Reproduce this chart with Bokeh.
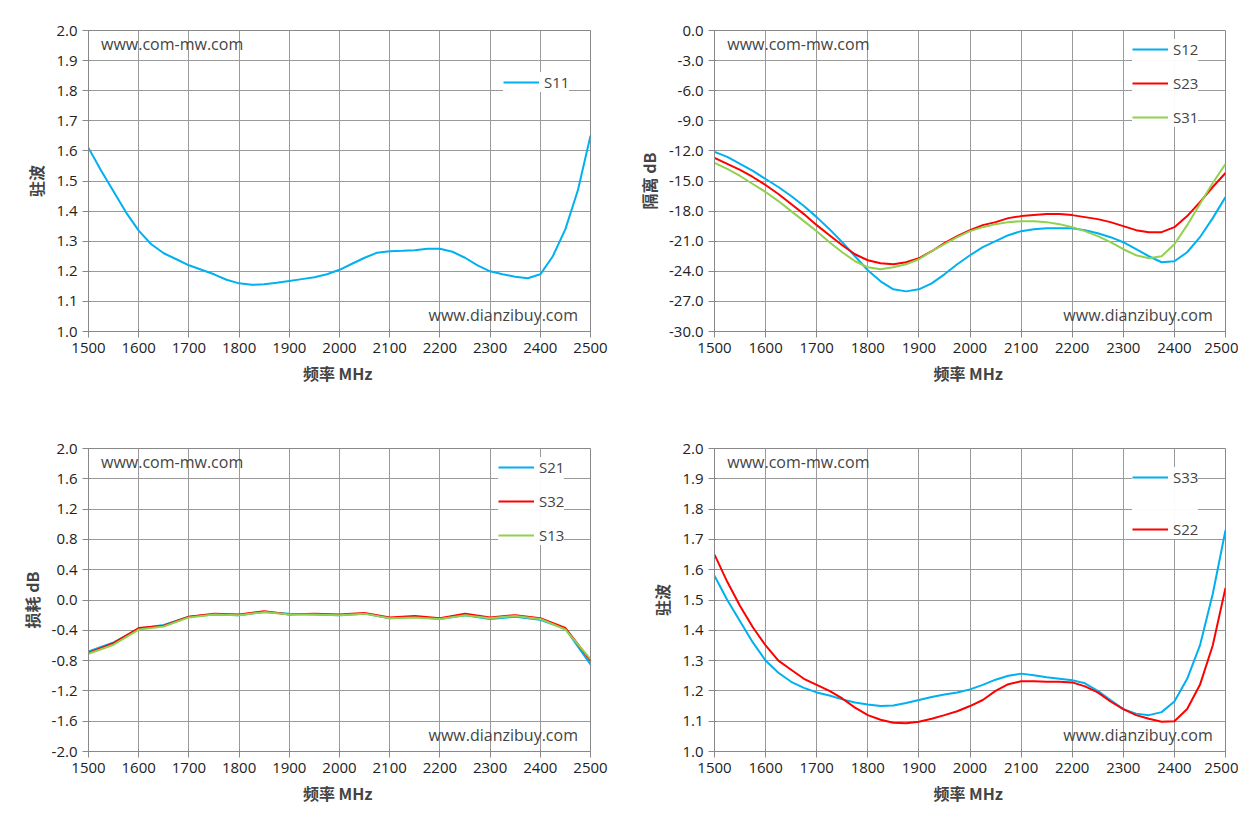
from bokeh.plotting import figure
from bokeh.layouts import gridplot
from bokeh.models import Label, Legend, FixedTicker, Range1d, CustomJSTickFormatter
from bokeh.embed import file_html
from bokeh.resources import INLINE

freq = list(range(1500, 2501, 25))
freq50 = list(range(1500, 2501, 50))

s11 = [1.61, 1.535, 1.465, 1.395, 1.335, 1.29, 1.26, 1.24, 1.22, 1.205, 1.19,
       1.172, 1.16, 1.155, 1.157, 1.162, 1.168, 1.174, 1.18, 1.19, 1.205,
       1.225, 1.245, 1.262, 1.267, 1.268, 1.27, 1.275, 1.275, 1.265, 1.245,
       1.22, 1.20, 1.19, 1.182, 1.177, 1.19, 1.25, 1.34, 1.47, 1.65]

s12 = [-12.1, -12.6, -13.3, -14.0, -14.8, -15.6, -16.5, -17.5, -18.6, -19.8, -21.1,
       -22.5, -23.9, -25.0, -25.8, -26.0, -25.8, -25.2, -24.3, -23.3, -22.4,
       -21.6, -21.0, -20.4, -20.0, -19.8, -19.7, -19.7, -19.7, -19.9, -20.2,
       -20.6, -21.1, -21.8, -22.5, -23.1, -23.0, -22.1, -20.6, -18.7, -16.6]
s23 = [-12.7, -13.3, -13.9, -14.6, -15.4, -16.3, -17.3, -18.3, -19.4, -20.4, -21.4,
       -22.3, -22.9, -23.2, -23.3, -23.1, -22.7, -22.0, -21.2, -20.5, -19.9,
       -19.4, -19.1, -18.7, -18.5, -18.4, -18.3, -18.3, -18.4, -18.6, -18.8,
       -19.1, -19.5, -19.9, -20.1, -20.1, -19.6, -18.5, -17.1, -15.6, -14.2]
s31 = [-13.2, -13.8, -14.5, -15.3, -16.1, -17.0, -18.0, -19.0, -20.0, -21.1, -22.1,
       -23.0, -23.6, -23.8, -23.6, -23.3, -22.8, -22.0, -21.3, -20.6, -20.0,
       -19.6, -19.3, -19.1, -19.0, -19.0, -19.1, -19.3, -19.6, -20.0, -20.5,
       -21.1, -21.8, -22.4, -22.7, -22.5, -21.3, -19.4, -17.3, -15.2, -13.3]

s21 = [-0.68, -0.56, -0.38, -0.33, -0.22, -0.19, -0.20, -0.16, -0.18, -0.19, -0.20,
       -0.18, -0.24, -0.22, -0.25, -0.20, -0.25, -0.22, -0.26, -0.38, -0.85]
s32 = [-0.70, -0.57, -0.37, -0.34, -0.22, -0.18, -0.19, -0.15, -0.19, -0.18, -0.19,
       -0.17, -0.23, -0.21, -0.24, -0.18, -0.23, -0.20, -0.24, -0.37, -0.80]
s13 = [-0.71, -0.59, -0.39, -0.35, -0.23, -0.19, -0.20, -0.16, -0.19, -0.19, -0.20,
       -0.18, -0.24, -0.23, -0.25, -0.20, -0.24, -0.21, -0.25, -0.39, -0.78]

s33 = [1.58, 1.50, 1.43, 1.36, 1.30, 1.26, 1.23, 1.21, 1.195, 1.185, 1.172,
       1.162, 1.155, 1.15, 1.152, 1.16, 1.17, 1.18, 1.188, 1.195, 1.205,
       1.22, 1.237, 1.25, 1.257, 1.252, 1.245, 1.24, 1.235, 1.225, 1.20,
       1.17, 1.14, 1.125, 1.12, 1.13, 1.165, 1.24, 1.35, 1.52, 1.73]
s22 = [1.65, 1.56, 1.48, 1.41, 1.35, 1.30, 1.27, 1.24, 1.22, 1.20, 1.175,
       1.145, 1.12, 1.105, 1.095, 1.093, 1.098, 1.108, 1.12, 1.133, 1.15,
       1.17, 1.20, 1.222, 1.232, 1.232, 1.23, 1.23, 1.228, 1.215, 1.195,
       1.165, 1.14, 1.12, 1.108, 1.098, 1.10, 1.14, 1.22, 1.35, 1.54]

x_ticks = list(range(1500, 2501, 100))
CYAN, RED, GREEN = "#00B0F0", "#FF0000", "#92D050"
TICK_FONT = "Open Sans"
CJK = "Noto Sans CJK SC"


def make_panel(left, right, top, bottom, y0, y1, step, ylabel, series, legend_loc, legend_spacing):
    p = figure(width=619, height=411, x_range=Range1d(1500, 2500), y_range=Range1d(y0, y1),
               toolbar_location=None, output_backend="svg",
               min_border_left=left, min_border_right=right,
               min_border_top=top, min_border_bottom=bottom)
    p.outline_line_color = "#888888"
    p.xaxis.ticker = FixedTicker(ticks=x_ticks)
    n = int(round((y1 - y0) / step))
    p.yaxis.ticker = FixedTicker(ticks=[round(y0 + i * step, 3) for i in range(n + 1)])
    p.yaxis.formatter = CustomJSTickFormatter(code="return tick.toFixed(1);")
    for ax in (p.xaxis, p.yaxis):
        ax.major_label_text_font = TICK_FONT
        ax.major_label_text_font_size = "15px"
        ax.major_label_text_color = "#222222"
        ax.axis_line_color = "#888888"
        ax.major_tick_line_color = "#888888"
        ax.minor_tick_line_color = None
        ax.axis_label_text_font = CJK
        ax.axis_label_text_font_style = "bold"
        ax.axis_label_text_font_size = "16px"
    p.xaxis.axis_label = "频率  MHz"
    p.yaxis.axis_label = ylabel
    p.grid.grid_line_color = "#9a9a9a"
    p.grid.grid_line_alpha = 1.0
    items = []
    for name, xs, vals, color in series:
        r = p.line(xs, vals, line_color=color, line_width=2)
        items.append((name, [r]))
    leg = Legend(items=items, location=legend_loc, border_line_color=None,
                 background_fill_color="white", label_text_font=TICK_FONT,
                 label_text_font_size="15px", spacing=legend_spacing, glyph_width=36)
    p.add_layout(leg, "center")
    p.add_layout(Label(x=1525, y=y1, y_offset=-24, text="www.com-mw.com", text_font=TICK_FONT,
                       text_font_size="16px"))
    p.add_layout(Label(x=2475, y=y0, y_offset=6, text="www.dianzibuy.com", text_font=TICK_FONT,
                       text_font_size="16px", text_align="right"))
    return p


p1 = make_panel(88, 29, 30, 80, 1.0, 2.0, 0.1, "驻波",
                [("S11", freq, s11, CYAN)], (415, 239), 20)
p2 = make_panel(95, 13, 30, 77, -30.0, 0.0, 3.0, "隔离 dB",
                [("S12", freq, s12, CYAN), ("S23", freq, s23, RED), ("S31", freq, s31, GREEN)],
                (418, 204), 14)
p3 = make_panel(88, 29, 37, 71, -2.0, 2.0, 0.4, "损耗 dB",
                [("S21", freq50, s21, CYAN), ("S32", freq50, s32, RED), ("S13", freq50, s13, GREEN)],
                (410, 206), 14)
p4 = make_panel(95, 13, 37, 71, 1.0, 2.0, 0.1, "驻波",
                [("S33", freq, s33, CYAN), ("S22", freq, s22, RED)],
                (418, 212), 32)

grid = gridplot([[p1, p2], [p3, p4]], toolbar_location=None)
open("out.html", "w").write(file_html(grid, INLINE))
